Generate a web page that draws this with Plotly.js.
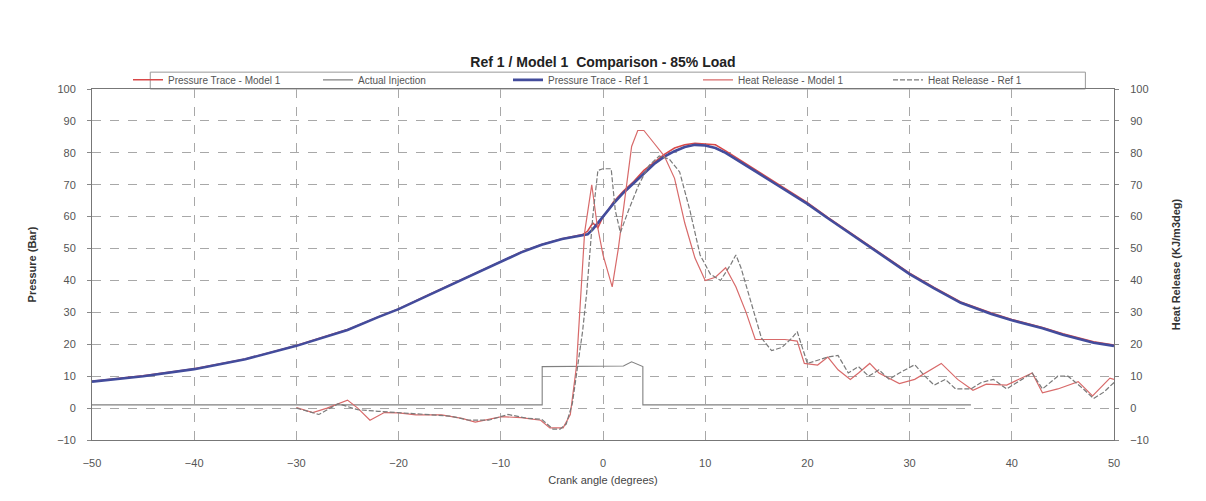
<!DOCTYPE html>
<html>
<head>
<meta charset="utf-8">
<script src="https://cdn.plot.ly/plotly-3.0.1.min.js"></script>
<style>
html,body{margin:0;padding:0;background:#fff;}
#chart{width:1206px;height:501px;}
</style>
</head>
<body>
<div id="chart"></div>
<script>
// ---- Pressure trace (Ref 1) ----
const pRefX = [-50,-45,-40,-35,-30,-25,-22,-20,-17,-15,-12,-10,-8,-7,-6,-4,-2,-1.5,-1,0,1,2,3,4,5,6,7,8,9,10,11,12,13.3,15,17,20,22,25,28,30,32.4,35,38,40,43,45,48,50];
const pRefY = [8.3,10,12.2,15.3,19.5,24.5,28.5,31,35.5,38.5,43,46,48.8,50,51.2,53,54.2,54.5,56,60,64,67.5,70.5,73.5,76.5,78.8,80.5,81.8,82.5,82.3,81.5,80,77.5,74,70,64,59.5,53,46.5,42,37.5,33,29.5,27.5,25,23,20.5,19.5];

// ---- Pressure trace (Model 1) ----
const pModX = [-50,-45,-40,-35,-30,-25,-22,-20,-17,-15,-12,-10,-8,-7,-6,-4,-2,-1.5,-1,-0.5,0,0.5,1,2,3,4,5,6,7,8,9,10,11,12,13.3,15,17,20,22,25,28,30,32.4,35,38,40,43,45,48,50];
const pModY = [8.4,10.1,12.3,15.4,19.6,24.6,28.6,31.1,35.6,38.6,43.1,46.1,48.9,50.1,51.3,53.1,54.4,55.5,58,56.5,60,62,64.5,68,71,74.5,77,79.5,81.5,82.5,83,82.8,82.5,80.6,78,74.4,70.4,64.4,59.8,53.3,46.8,42.3,37.8,33.3,29.8,27.8,25.3,23.3,20.8,19.8];

// ---- Actual injection ----
const injX = [-50,-5.95,-5.95,2,2.8,3.5,3.9,3.9,36];
const injY = [1,1,13,13.2,14.5,13.5,13,1,1];

// ---- Heat release (Model 1) ----
const hrModX = [-30,-28.4,-27,-25,-24,-22.8,-21.4,-20,-18.3,-15.8,-13.8,-12.5,-9.9,-8,-6.1,-5.2,-3.9,-3.2,-2.6,-2.3,-1.8,-1.1,-0.6,0,0.9,1.5,2.2,2.8,3.4,4,5,6,7,8,9,10,11,12,13,14,14.9,16,17.8,19,19.7,21,22,23,24.2,25,26.1,27,29,30.5,31.5,33.1,34.7,36.2,37.5,39.5,42,43,44.5,46.5,47.9,49.6,50];
const hrModY = [0.2,-1.4,0,2.5,0,-3.8,-1.4,-1.5,-2.1,-2.1,-3.2,-4.4,-2.7,-3,-3.8,-6.2,-6.2,-2,13,30,55,70,58,48,38,50,68,82,87,87,83,79,72,58,47,40,41,44,38,30,21.5,21.5,21.5,21,14,13.5,16,12,9,11,14,11,7.7,9,11,14,9,5.6,7.5,7.2,11,4.8,6,8.3,3.8,9.4,9];

// ---- Heat release (Ref 1) ----
const hrRefX = [-30,-27.8,-25.9,-24,-22,-20.2,-16.9,-15,-13.1,-11.2,-9.3,-7.4,-6,-4.9,-4.2,-3.6,-3,-2,-1.6,-1,-0.5,0,0.8,1.2,1.7,2.5,3.5,4.5,5.5,6.5,7.5,8.5,9.5,10.5,11.5,12.5,13,13.5,14.5,15.5,16.5,17.5,18.5,19,20,21,22,23,24,25,26,27,28,29,30.5,31.5,32.4,33.5,34.5,36,37,38.2,39.5,41,42,43,44.5,45.5,47,48,49,50];
const hrRefY = [0,-2,1.4,-0.5,-1,-1.4,-2.1,-2.5,-3.8,-3.8,-2,-3.2,-3.5,-6.6,-6.6,-5,1.4,24,36,60,74.5,75,75,62,55,62,70,76,79,78,74,62,48,42,40,45,48,44,33,22,18,19,22,24,14,15,16,16.5,11,13,10,12,9,11,13.6,10,7.2,9,6,6,8,9,6,9,11,6,10,10,6,3,5,8];

const xTicks = [-50,-40,-30,-20,-10,0,10,20,30,40,50];
const yTicks = [-10,0,10,20,30,40,50,60,70,80,90,100];

const FONT = 'Liberation Sans, Arial, sans-serif';

const traces = [
  {x:pModX, y:pModY, name:'Pressure Trace - Model 1', type:'scatter', mode:'lines',
   line:{color:'#d84848', width:1.5}},
  {x:injX, y:injY, name:'Actual Injection', type:'scatter', mode:'lines', yaxis:'y2',
   line:{color:'#808080', width:1.1}},
  {x:pRefX, y:pRefY, name:'Pressure Trace - Ref 1', type:'scatter', mode:'lines',
   line:{color:'#434c9c', width:2.6}},
  {x:hrModX, y:hrModY, name:'Heat Release - Model 1', type:'scatter', mode:'lines', yaxis:'y2',
   line:{color:'#d86a6a', width:1.2}},
  {x:hrRefX, y:hrRefY, name:'Heat Release - Ref 1', type:'scatter', mode:'lines', yaxis:'y2',
   line:{color:'#7a7a7a', width:1.2, dash:'5px,2px'}}
];

const axisCommon = {
  range:[-10,100], tickvals:yTicks, zeroline:false,
  tickfont:{family:FONT, size:11, color:'#555'},
  ticks:'outside', ticklen:4, tickcolor:'#888', ticklabelstandoff:9,
  showline:true, linecolor:'#777', linewidth:1
};

const layout = {
  width:1206, height:501,
  margin:{l:92, r:92, t:89, b:61},
  paper_bgcolor:'#ffffff', plot_bgcolor:'#ffffff',
  font:{family:FONT, color:'#333'},
  title:{text:'<b>Ref 1 / Model 1  Comparison - 85% Load</b>', x:0.5, xanchor:'center', y:0.876, yanchor:'middle',
         font:{family:FONT, size:14, color:'#222'}},
  showlegend:true,
  legend:{orientation:'h', x:0.5, xanchor:'center', y:1.026, yanchor:'middle',
          borderwidth:0, bgcolor:'rgba(0,0,0,0)',
          font:{family:FONT, size:10, color:'#555'},
          entrywidth:145, entrywidthmode:'pixels', itemwidth:30, traceorder:'normal',
          tracegroupgap:0},
  shapes:[{type:'rect', xref:'paper', yref:'paper', x0:0.057, x1:0.972, y0:1.0, y1:1.048,
           line:{color:'#999', width:1}, fillcolor:'rgba(0,0,0,0)', layer:'below'}],
  xaxis:{range:[-50,50], tickvals:xTicks, zeroline:false,
         showgrid:true, gridcolor:'#a8a8a8', griddash:'dash', gridwidth:1,
         showline:true, linecolor:'#777', mirror:true,
         ticks:'outside', ticklen:13, tickcolor:'rgba(0,0,0,0)',
         tickfont:{family:FONT, size:11, color:'#555'},
         title:{text:'Crank angle (degrees)', font:{family:FONT, size:11, color:'#444'}, standoff:8}},
  yaxis:Object.assign({}, axisCommon, {
         showgrid:true, gridcolor:'#a8a8a8', griddash:'dash', gridwidth:1,
         title:{text:'<b>Pressure (Bar)</b>', font:{family:FONT, size:11, color:'#333'}, standoff:18}}),
  yaxis2:Object.assign({}, axisCommon, {
         overlaying:'y', side:'right', showgrid:false,
         title:{text:'<b>Heat Release (KJ/m3deg)</b>', font:{family:FONT, size:11, color:'#333'}, standoff:24}})
};

Plotly.newPlot('chart', traces, layout, {staticPlot:true, displayModeBar:false});
</script>
</body>
</html>
